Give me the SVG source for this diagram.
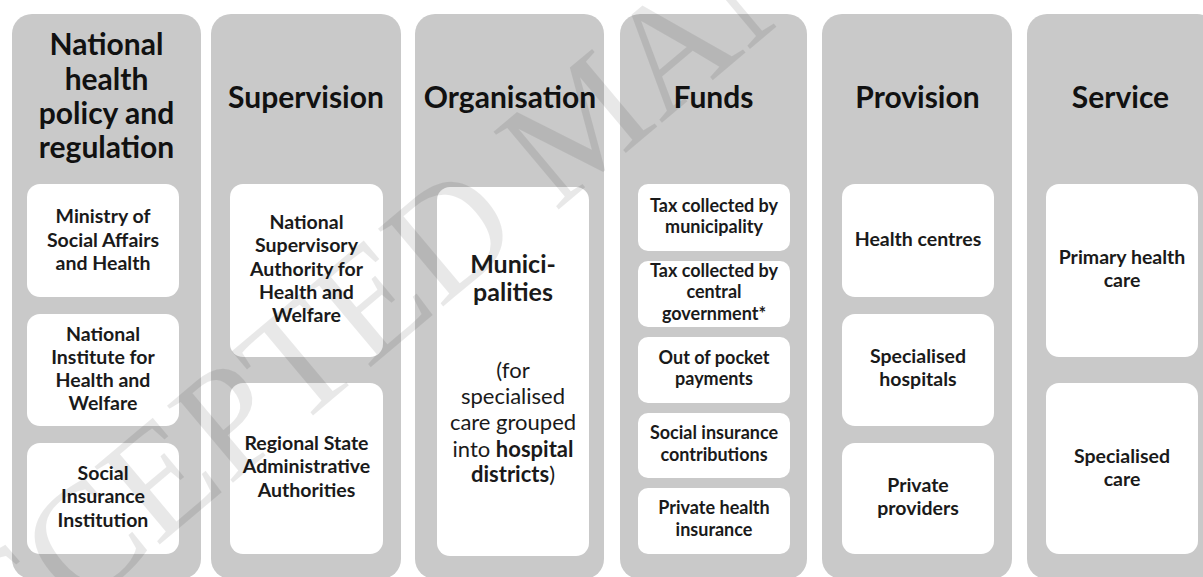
<svg xmlns="http://www.w3.org/2000/svg" width="1203" height="577" viewBox="0 0 1203 577">
  <style>
    .col { fill: #c9c9c9; }
    .box { fill: #ffffff; }
    text { font-family: Lato, "Open Sans", "Liberation Sans", sans-serif; text-anchor: middle; fill: #1a1a1a; }
    .head { font-size: 30px; font-weight: 700; fill: #111; }
    .lbl { font-size: 19.5px; font-weight: 700; }
    .fund { font-size: 18px; font-weight: 700; }
    .big { font-size: 25px; font-weight: 700; }
    .reg { font-size: 22px; font-weight: 400; }
    .b { font-weight: 700; }
    .wm { font-family: "Liberation Serif", "Times New Roman", serif; font-size: 155px; fill: #000; fill-opacity: 0.09; text-anchor: start; }
  </style>
  <rect width="1203" height="577" fill="#ffffff"/>

  <!-- Column: national health policy and regulation -->
  <g id="col-policy">
    <rect class="col" x="12" y="14" width="189" height="565" rx="20"/>
    <text class="head"><tspan x="106.5" y="55">National</tspan><tspan x="106.5" y="90">health</tspan><tspan x="106.5" y="124">policy and</tspan><tspan x="106.5" y="158">regulation</tspan></text>
    <g id="ministry">
      <rect class="box" x="27" y="184" width="152" height="113" rx="13"/>
      <text class="lbl"><tspan x="103" y="223">Ministry of</tspan><tspan x="103" y="247">Social Affairs</tspan><tspan x="103" y="270">and Health</tspan></text>
    </g>
    <g id="thl">
      <rect class="box" x="27" y="314" width="152" height="112" rx="13"/>
      <text class="lbl"><tspan x="103" y="341">National</tspan><tspan x="103" y="364">Institute for</tspan><tspan x="103" y="387">Health and</tspan><tspan x="103" y="410">Welfare</tspan></text>
    </g>
    <g id="kela">
      <rect class="box" x="27" y="443" width="152" height="111" rx="13"/>
      <text class="lbl"><tspan x="103" y="480">Social</tspan><tspan x="103" y="503">Insurance</tspan><tspan x="103" y="527">Institution</tspan></text>
    </g>
  </g>

  <!-- Column: supervision -->
  <g id="col-supervision">
    <rect class="col" x="211" y="14" width="190" height="565" rx="20"/>
    <text class="head" x="306" y="108">Supervision</text>
    <g id="valvira">
      <rect class="box" x="230" y="184" width="153" height="173" rx="13"/>
      <text class="lbl"><tspan x="306.5" y="229">National</tspan><tspan x="306.5" y="252">Supervisory</tspan><tspan x="306.5" y="276">Authority for</tspan><tspan x="306.5" y="299">Health and</tspan><tspan x="306.5" y="322">Welfare</tspan></text>
    </g>
    <g id="avi">
      <rect class="box" x="230" y="383" width="153" height="171" rx="13"/>
      <text class="lbl"><tspan x="306.5" y="450">Regional State</tspan><tspan x="306.5" y="473">Administrative</tspan><tspan x="306.5" y="497">Authorities</tspan></text>
    </g>
  </g>

  <!-- Column: organisation -->
  <g id="col-organisation">
    <rect class="col" x="415" y="14" width="189" height="565" rx="20"/>
    <text class="head" x="510" y="108">Organisation</text>
    <g id="municipalities">
      <rect class="box" x="437" y="187" width="152" height="369" rx="13"/>
      <text class="big"><tspan x="513" y="273">Munici-</tspan><tspan x="513" y="301">palities</tspan></text>
      <text class="reg"><tspan x="513" y="378">(for</tspan><tspan x="513" y="404">specialised</tspan><tspan x="513" y="430">care grouped</tspan><tspan x="513" y="457">into <tspan class="b">hospital</tspan></tspan><tspan x="513" y="482"><tspan class="b">districts</tspan>)</tspan></text>
    </g>
  </g>

  <!-- Column: funds -->
  <g id="col-funds">
    <rect class="col" x="620" y="14" width="187" height="565" rx="20"/>
    <text class="head" x="713.5" y="108">Funds</text>
    <g id="tax-municipal">
      <rect class="box" x="638" y="184" width="152" height="67" rx="10"/>
      <text class="fund"><tspan x="714" y="212">Tax collected by</tspan><tspan x="714" y="233">municipality</tspan></text>
    </g>
    <g id="tax-central">
      <rect class="box" x="638" y="261" width="152" height="66" rx="10"/>
      <text class="fund"><tspan x="714" y="277">Tax collected by</tspan><tspan x="714" y="298">central</tspan><tspan x="714" y="320">government*</tspan></text>
    </g>
    <g id="out-of-pocket">
      <rect class="box" x="638" y="337" width="152" height="66" rx="10"/>
      <text class="fund"><tspan x="714" y="364">Out of pocket</tspan><tspan x="714" y="385">payments</tspan></text>
    </g>
    <g id="social-insurance">
      <rect class="box" x="638" y="413" width="152" height="65" rx="10"/>
      <text class="fund"><tspan x="714" y="439">Social insurance</tspan><tspan x="714" y="461">contributions</tspan></text>
    </g>
    <g id="private-insurance">
      <rect class="box" x="638" y="488" width="152" height="66" rx="10"/>
      <text class="fund"><tspan x="714" y="514">Private health</tspan><tspan x="714" y="536">insurance</tspan></text>
    </g>
  </g>

  <!-- Column: provision -->
  <g id="col-provision">
    <rect class="col" x="822" y="14" width="190" height="565" rx="20"/>
    <text class="head" x="917.5" y="108">Provision</text>
    <g id="health-centres">
      <rect class="box" x="842" y="184" width="152" height="113" rx="13"/>
      <text class="lbl" x="918" y="246">Health centres</text>
    </g>
    <g id="spec-hospitals">
      <rect class="box" x="842" y="314" width="152" height="112" rx="13"/>
      <text class="lbl"><tspan x="918" y="363">Specialised</tspan><tspan x="918" y="386">hospitals</tspan></text>
    </g>
    <g id="private-providers">
      <rect class="box" x="842" y="443" width="152" height="111" rx="13"/>
      <text class="lbl"><tspan x="918" y="492">Private</tspan><tspan x="918" y="515">providers</tspan></text>
    </g>
  </g>

  <!-- Column: service -->
  <g id="col-service">
    <rect class="col" x="1027" y="14" width="190" height="565" rx="20"/>
    <text class="head" x="1120.5" y="108">Service</text>
    <g id="primary-care">
      <rect class="box" x="1046" y="184" width="152" height="173" rx="13"/>
      <text class="lbl"><tspan x="1122" y="264">Primary health</tspan><tspan x="1122" y="287">care</tspan></text>
    </g>
    <g id="specialised-care">
      <rect class="box" x="1046" y="383" width="152" height="171" rx="13"/>
      <text class="lbl"><tspan x="1122" y="463">Specialised</tspan><tspan x="1122" y="486">care</tspan></text>
    </g>
  </g>

  <g id="connectors"/>

  <!-- Diagonal overlay text -->
  <text class="wm" transform="translate(-88,752) rotate(-40)">ACCEPTED MANUSCRIPT</text>
</svg>
